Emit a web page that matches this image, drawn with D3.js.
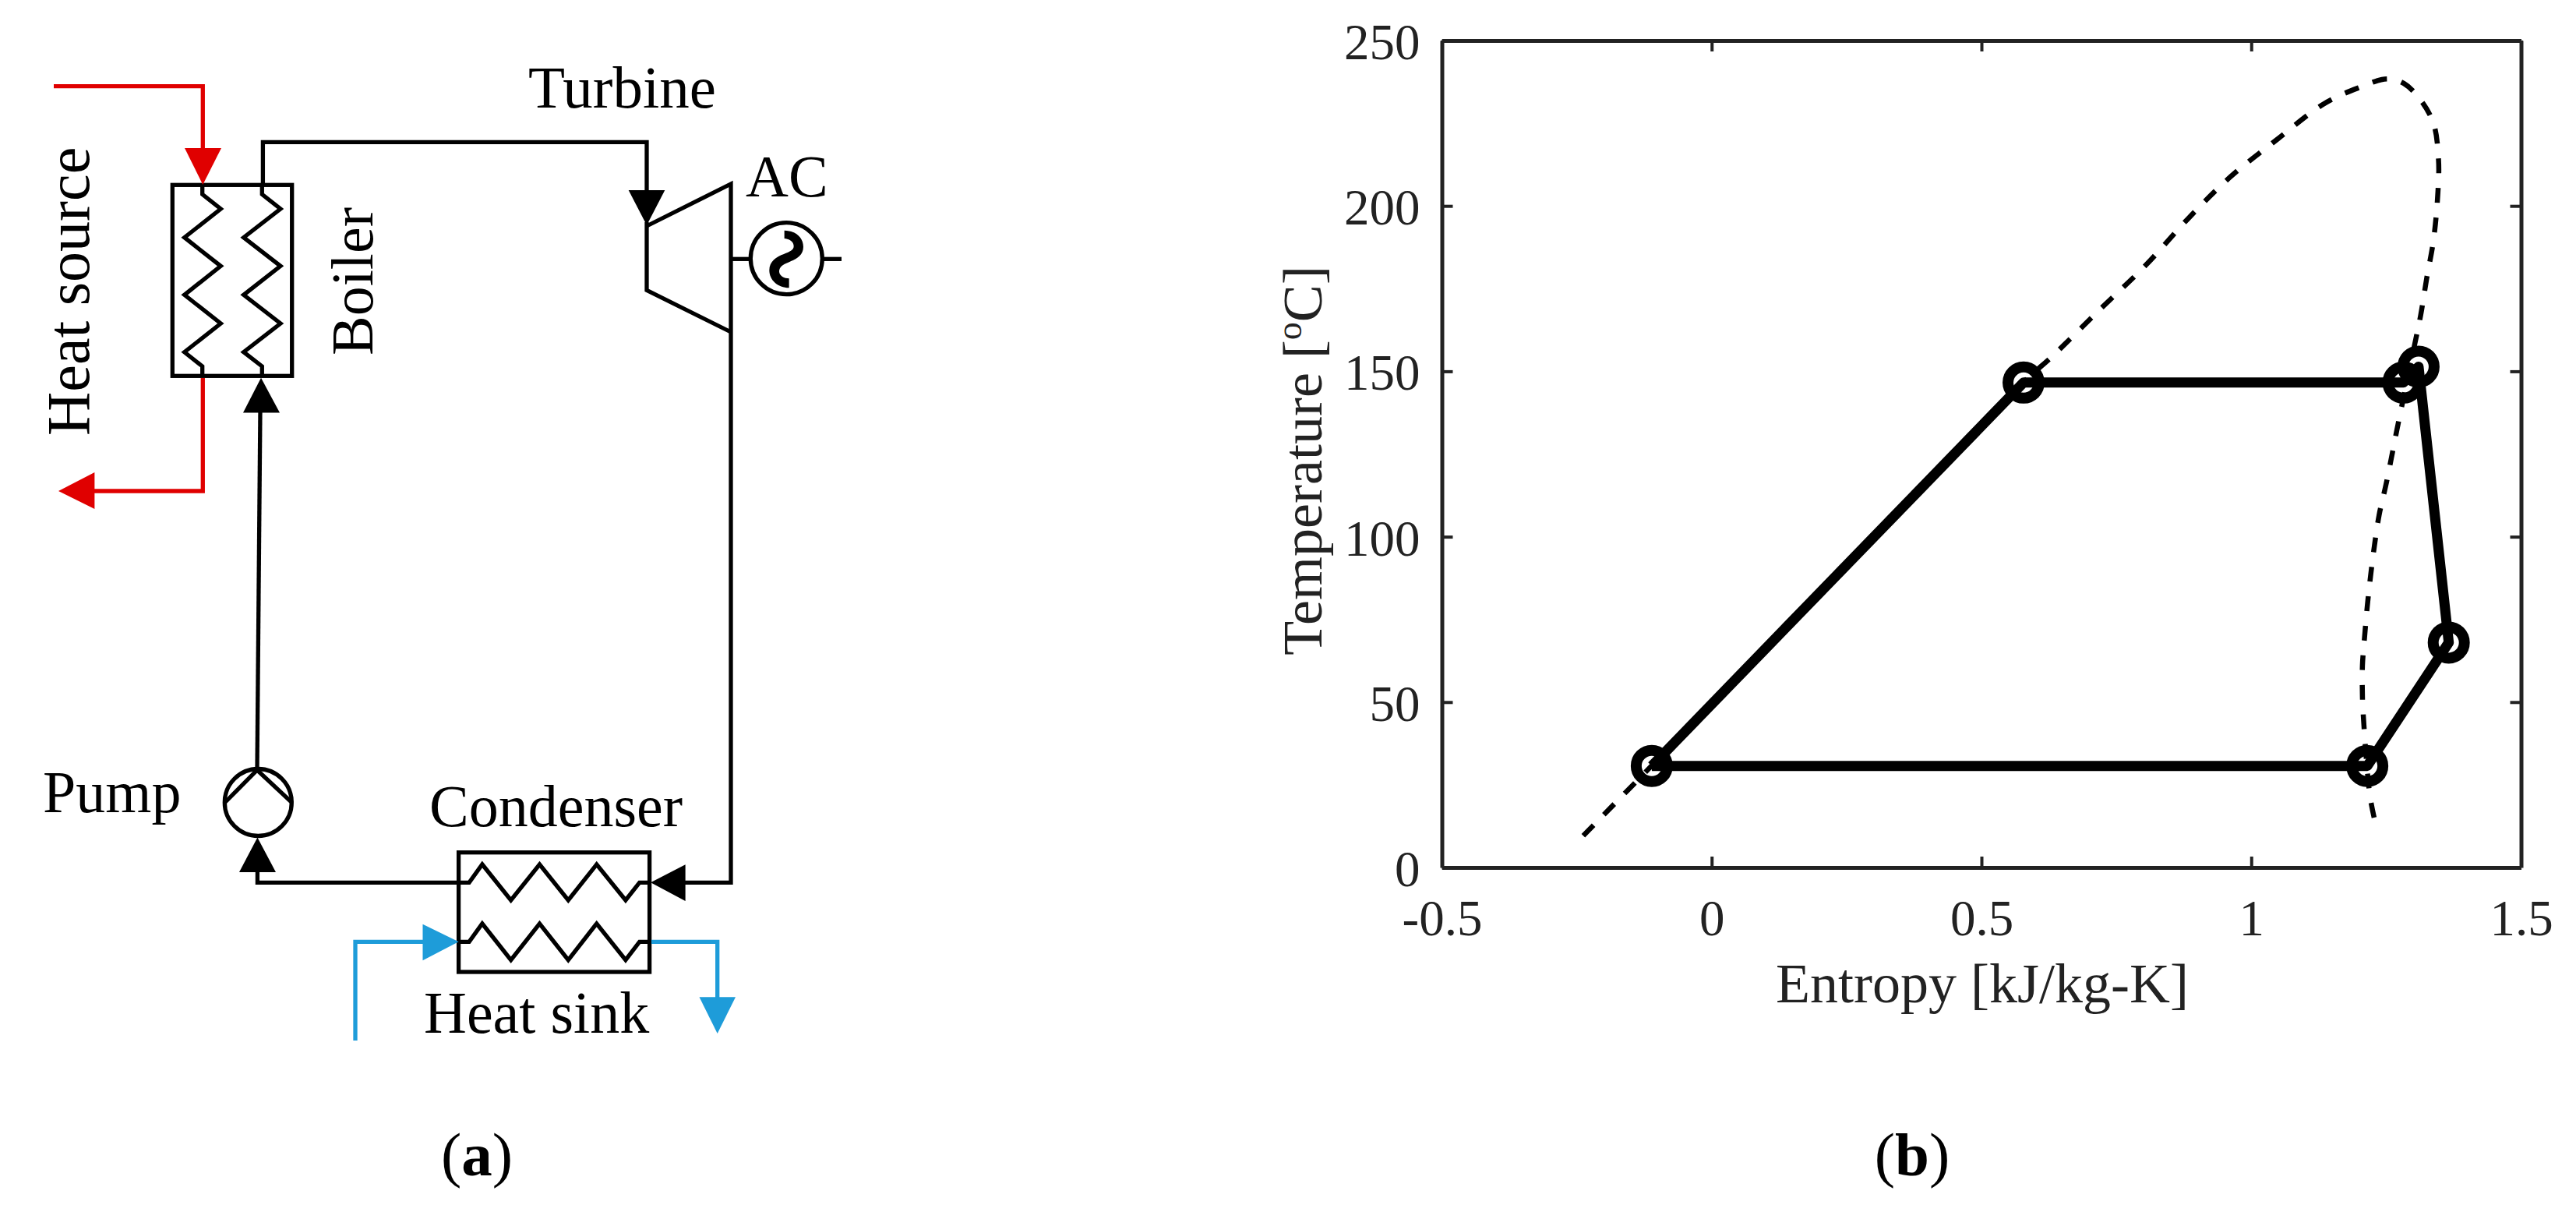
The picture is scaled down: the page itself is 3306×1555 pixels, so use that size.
<!DOCTYPE html>
<html><head><meta charset="utf-8">
<script src="https://cdnjs.cloudflare.com/ajax/libs/d3/7.8.5/d3.min.js"></script>
<style>html,body{margin:0;padding:0;background:#fff;overflow:hidden}svg{display:block}text{font-family:"Liberation Serif",serif}</style>
</head><body>
<svg id="c" width="3306" height="1555"></svg>
<script>
// Panel (b) data
const xTicks = [-0.5, 0, 0.5, 1, 1.5];
const yTicks = [0, 50, 100, 150, 200, 250];
const cycleEntropy = [-0.111, 0.578, 1.282, 1.31, 1.366, 1.215, -0.111];
const cycleTemp    = [30.7, 146.6, 146.6, 151.4, 68, 30.7, 30.7];
const domeEntropy = [-0.238,-0.111,0.578,0.631,0.717,0.804,0.882,0.96,1.047,1.134,1.197,1.252,1.283,1.314,1.338,1.347,1.346,1.338,1.325,1.314,1.302,1.272,1.25,1.237,1.228,1.221,1.215,1.21,1.206,1.206,1.207,1.22,1.231];
const domeTemp    = [9.6,30.8,146.7,154.5,168.3,182,196,208.6,220,230.8,235.6,238.4,237,232,224.8,214,204.4,190,178,167,157.5,134,116,106.6,97,88,79,69.7,61,51.8,47.6,21.6,12.8];
// Panel (a) labels
const schematicLabels = ["Turbine","AC","Heat source","Boiler","Pump","Condenser","Heat sink"];

const svg = d3.select("#c");
const INK = "#222222", RED = "#e00000", BLUE = "#1e9cd9";

/* ---------- panel (b) ---------- */
const x = d3.scaleLinear().domain([-0.5,1.5]).range([1850.5,3235.5]);
const y = d3.scaleLinear().domain([0,250]).range([1113,52]);
const g = svg.append("g");
function styleAxis(a){
  a.select(".domain").attr("stroke",INK).attr("stroke-width",5);
  a.selectAll(".tick line").attr("stroke",INK).attr("stroke-width",4);
  a.selectAll("text").attr("fill",INK).style("font-size","65px").style("font-family",'"Liberation Serif",serif');
}
const fmt = d => String(d);
const bottom = g.append("g").attr("transform",`translate(0,${y(0)})`)
  .call(d3.axisBottom(x).tickValues(xTicks).tickFormat(fmt).tickSizeInner(-14).tickSizeOuter(0));
styleAxis(bottom); bottom.selectAll("text").attr("y",87).attr("dy","0");
const topA = g.append("g").attr("transform",`translate(0,${y(250)})`)
  .call(d3.axisTop(x).tickValues(xTicks).tickFormat("").tickSizeInner(-14).tickSizeOuter(0));
styleAxis(topA);
const left = g.append("g").attr("transform",`translate(${x(-0.5)},0)`)
  .call(d3.axisLeft(y).tickValues(yTicks).tickFormat(fmt).tickSizeInner(-14).tickSizeOuter(0));
styleAxis(left); left.selectAll("text").attr("x",-28).attr("dy","0.36em");
const right = g.append("g").attr("transform",`translate(${x(1.5)},0)`)
  .call(d3.axisRight(y).tickValues(yTicks).tickFormat("").tickSizeInner(-14).tickSizeOuter(0));
styleAxis(right);

const line = d3.line().x(d=>x(d[0])).y(d=>y(d[1]));
g.append("path").attr("d",line.curve(d3.curveCatmullRom)(d3.zip(domeEntropy,domeTemp)))
  .attr("fill","none").attr("stroke","#000").attr("stroke-width",6.5).attr("stroke-dasharray","19 19");
g.append("path").attr("d",line.curve(d3.curveLinear)(d3.zip(cycleEntropy,cycleTemp)))
  .attr("fill","none").attr("stroke","#000").attr("stroke-width",13).attr("stroke-linejoin","round");
g.selectAll("circle.m").data(d3.zip(cycleEntropy,cycleTemp).slice(0,6)).join("circle")
  .attr("class","m").attr("cx",d=>x(d[0])).attr("cy",d=>y(d[1])).attr("r",20)
  .attr("fill","none").attr("stroke","#000").attr("stroke-width",14);

g.append("text").attr("x",2544).attr("y",1286).attr("text-anchor","middle")
  .attr("fill",INK).style("font-size","72px").text("Entropy [kJ/kg-K]");
const yl = g.append("text").attr("transform","translate(1696,591) rotate(-90)").attr("text-anchor","middle")
  .attr("fill",INK).style("font-size","72px");
yl.append("tspan").text("Temperature [");
yl.append("tspan").attr("dy",-26).style("font-size","46px").text("o");
yl.append("tspan").attr("dy",26).text("C]");

/* ---------- panel (a) schematic ---------- */
const SW = 5.3;
const s = svg.append("g").attr("fill","none").attr("stroke","#000").attr("stroke-width",SW);
const poly = (pts,col,w) => s.append("path").attr("d",d3.line()(pts)).attr("stroke",col||"#000").attr("stroke-width",w||SW).attr("stroke-linejoin","miter");
const tri = (pts,col) => s.append("path").attr("d",d3.line()(pts)+"Z").attr("fill",col||"#000").attr("stroke","none");

// boiler
s.append("rect").attr("x",221.3).attr("y",237.3).attr("width",153.4).attr("height",245);
const vCoil = (cx,r,l) => poly([[cx,237],[cx,249.3],[r,268],[l,304.7],[r,341.3],[l,378.3],[r,415],[l,451.7],[cx,470],[cx,482.3]]);
vCoil(259.7,283.3,236.7);
vCoil(336.3,360,312.7);
// heat source
poly([[69,110.7],[260.3,110.7],[260.3,200]],RED);
tri([[237,190],[284,190],[260.3,237]],RED);
poly([[260.3,485],[260.3,630],[115,630]],RED);
tri([[75,630],[121.4,606],[121.4,653]],RED);
// boiler -> turbine
poly([[337.4,237],[337.4,182.3],[830,182.3],[830,250]]);
tri([[806.7,244],[853.3,244],[830,289]]);
// turbine
poly([[830,290],[938,236],[938,1132.3],[870,1132.3]]);
poly([[830,285],[830,372.3],[938,426]]);
// generator
s.append("circle").attr("cx",1009.3).attr("cy",331.7).attr("r",46);
poly([[938,332.3],[963,332.3]]); poly([[1055,332.3],[1080,332.3]]);
svg.append("path").attr("transform","translate(780,170) scale(0.3333)").attr("fill","#000")
  .attr("d","M680 377C725 378 753 405 753 440C753 475 720 490 695 500C675 507 660 518 660 535C660 552 680 562 698 562L698 598C655 597 622 568 622 530C622 495 650 478 678 468C700 460 716 452 716 438C716 420 700 410 680 408Z");
// pump line
poly([[334,525],[330,988]]);
tri([[335,484.7],[312,529.6],[359,529.6]]);
s.append("circle").attr("cx",331.3).attr("cy",1029.5).attr("r",43);
poly([[288.3,1030],[330,988],[375,1030]]);
tri([[330.4,1074.4],[307,1119],[354,1119]]);
poly([[330.4,1115],[330.4,1132.3],[590,1132.3]]);
// condenser
s.append("rect").attr("x",588.6).attr("y",1093.7).attr("width",245).attr("height",153.3);
const hCoil = (cy,p,v) => poly([[588.6,cy],[602.1,cy],[618.9,p],[655.7,v],[692.5,p],[729.3,v],[765.7,p],[802.9,v],[820.7,cy],[833.6,cy]]);
hCoil(1132.3,1109,1155);
hCoil(1208.3,1185,1231.7);
tri([[835,1132.3],[879.6,1109.3],[879.6,1156]]);
// heat sink
poly([[456,1335],[456,1208.3],[550,1208.3]],BLUE);
tri([[542.5,1185.7],[542.5,1232.3],[588.6,1208.3]],BLUE);
poly([[836,1208.3],[920.7,1208.3],[920.7,1285]],BLUE);
tri([[897.5,1279.3],[944,1279.3],[920.7,1326]],BLUE);

// labels
const T = svg.append("g").attr("fill","#000");
const labelPos = [[678,138,0,77],[957,252,0,76],[114,559,-90,78],[478,456,-90,76],[55,1042,0,76],[551,1060,0,76],[544,1325,0,76]];
T.selectAll("text").data(schematicLabels).join("text")
  .attr("transform",(d,i)=>`translate(${labelPos[i][0]},${labelPos[i][1]}) rotate(${labelPos[i][2]})`)
  .style("font-size",(d,i)=>labelPos[i][3]+"px")
  .text(d=>d);
// captions
[["a",612],["b",2454]].forEach(([c,cx])=>{
  const t = svg.append("text").attr("x",cx).attr("y",1508).attr("text-anchor","middle").attr("fill","#000").style("font-size","79px");
  t.append("tspan").text("(");
  t.append("tspan").style("font-weight","bold").text(c);
  t.append("tspan").text(")");
});
</script>
</body></html>
